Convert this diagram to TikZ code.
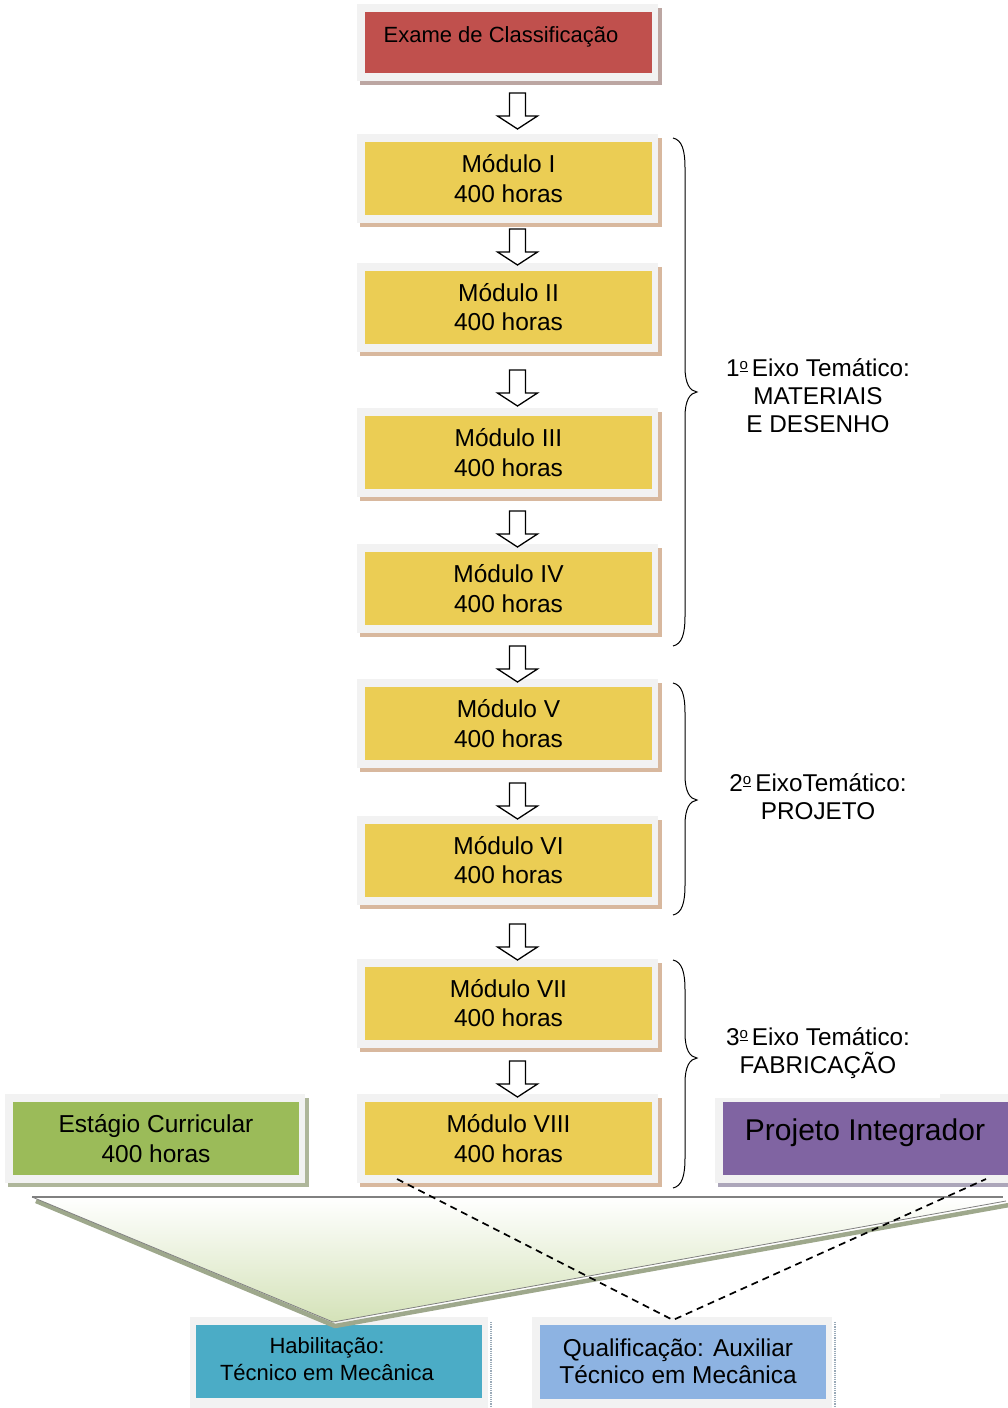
\documentclass[tikz,border=0pt]{standalone}
\usepackage{fontspec}
\setmainfont{Liberation Sans}
\definecolor{framegray}{HTML}{F2F2F2}
\definecolor{exred}{HTML}{C0504D}
\definecolor{modyellow}{HTML}{EBCD54}
\definecolor{estgreen}{HTML}{9BBB59}
\definecolor{pipurple}{HTML}{8064A2}
\definecolor{habteal}{HTML}{4BACC6}
\definecolor{qualblue}{HTML}{8DB3E2}
\definecolor{trigreen}{HTML}{D4E2B8}
\definecolor{shmod}{HTML}{D8B89E}
\definecolor{shred}{HTML}{BCA6A2}
\definecolor{shgreen}{HTML}{AEB69A}
\definecolor{shpurple}{HTML}{ACA6BA}
\definecolor{shtri}{HTML}{9EA88C}
\definecolor{shblue}{HTML}{9AAAB8}
\newcommand\cbox[8]{%
  \fill[#7] ({#2-#4/2-5},{#3-#5/2-4}) rectangle ({#2+#4/2+10},{#3+#5/2+12});
  \fill[framegray] ({#2-#4/2-8},{#3-#5/2-8}) rectangle ({#2+#4/2+6},{#3+#5/2+8});
  \node[inbox, fill=#6, minimum width=#4pt, minimum height=#5pt] (#1) at (#2,#3) {#8};}
\newcommand\rbrc[3]{%
  \draw[bracestyle] (673,#1) .. controls (682,#1+2) and (685,#1+12) .. (685,#1+30)
    -- (685,#2-25) .. controls (685,#2-8) and (690,#2-1) .. (697,#2)
    .. controls (690,#2+1) and (685,#2+8) .. (685,#2+25)
    -- (685,#3-30) .. controls (685,#3-12) and (682,#3-2) .. (673,#3);}
\newcommand\ordo{\raisebox{7pt}{\fontsize{15}{15}\selectfont\underline{o}}}
\begin{document}
\begin{tikzpicture}[x=1pt,y=-1pt,
  inbox/.style={inner sep=0pt, draw=none, align=center, font=\fontsize{24.5}{29.5}\selectfont},
  lbl/.style={inner sep=0pt, align=center},
  bracestyle/.style={line width=1pt, black},
  blockarrow/.style={draw=black, line width=1.3pt, fill=white, line join=miter},
  dashcon/.style={dash pattern=on 7pt off 5pt, line width=1.7pt}]
\useasboundingbox (0,0) rectangle (1008,1408);
\clip (0,0) rectangle (1008,1408);

% top box
\cbox{exame}{508.5}{42.5}{287}{61}{exred}{shred}{}
\node[lbl, anchor=base, font=\fontsize{22}{26}\selectfont] (examet) at (501,42) {Exame de Classificação};

% modules
\cbox{m1}{508.5}{178.5}{287}{73}{modyellow}{shmod}{Módulo I\\400 horas}
\cbox{m2}{508.5}{307}{287}{73}{modyellow}{shmod}{Módulo II\\400 horas}
\cbox{m3}{508.5}{452.5}{287}{73}{modyellow}{shmod}{Módulo III\\400 horas}
\cbox{m4}{508.5}{588.5}{287}{73}{modyellow}{shmod}{Módulo IV\\400 horas}
\cbox{m5}{508.5}{723.5}{287}{73}{modyellow}{shmod}{Módulo V\\400 horas}
\cbox{m6}{508.5}{860}{287}{73}{modyellow}{shmod}{Módulo VI\\400 horas}
\cbox{m7}{508.5}{1003}{287}{73}{modyellow}{shmod}{Módulo VII\\400 horas}
\cbox{m8}{508.5}{1138.5}{287}{73}{modyellow}{shmod}{Módulo VIII\\400 horas}

% block arrows
\foreach \t in {93,229,370,511,646,783,924,1061} {
  \draw[blockarrow] (509.5,\t) -- (525.5,\t) -- (525.5,\t+23) -- (537.5,\t+23)
    -- (517.5,\t+36) -- (497.5,\t+23) -- (509.5,\t+23) -- cycle;
}

% braces and labels
\rbrc{138}{392}{646}
\rbrc{683}{800}{915}
\rbrc{960}{1058}{1188}
\node[lbl, font=\fontsize{24.3}{28}\selectfont] (eixo1) at (818,396) {1\ordo\,Eixo Temático:\\MATERIAIS\\E DESENHO};
\node[lbl, font=\fontsize{24.3}{28}\selectfont] (eixo2) at (818,797) {2\ordo\,EixoTemático:\\PROJETO};
\node[lbl, font=\fontsize{24.3}{28}\selectfont] (eixo3) at (818,1053) {3\ordo\,Eixo Temático:\\FABRICAÇÃO};

% Estagio
\cbox{estagio}{156}{1138.5}{286}{73}{estgreen}{shgreen}{Estágio Curricular\\400 horas}

% Projeto Integrador
\fill[shpurple] (718,1179) rectangle (1015,1187);
\fill[framegray] (715,1098) rectangle (1015,1183);
\fill[framegray] (940,1094) rectangle (1015,1100);
\node[inbox, fill=pipurple, minimum width=292pt, minimum height=73pt] (proj) at (869,1138.5) {};
\node[lbl, anchor=base, font=\fontsize{30}{34}\selectfont] (projt) at (865,1140) {Projeto Integrador};

% bottom boxes
\fill[framegray] (190,1317) rectangle (488,1412);
\draw[shblue, densely dotted, line width=1.2pt] (491,1322) -- (491,1408);
\node[inbox, fill=habteal, minimum width=286pt, minimum height=73pt] (hab) at (339,1361.5) {};
\node[lbl, font=\fontsize{22}{27.5}\selectfont] (habt) at (327,1359) {Habilitação:\\Técnico em Mecânica};

\fill[framegray] (532,1317) rectangle (832,1412);
\draw[shblue, densely dotted, line width=1.2pt] (835,1322) -- (835,1408);
\node[inbox, fill=qualblue, minimum width=286pt, minimum height=74pt] (qual) at (683,1362) {};
\node[lbl, font=\fontsize{24.4}{27.5}\selectfont] (qualt) at (678,1361.5) {Qualificação: Auxiliar\\Técnico em Mecânica};

% funnel triangle
\coordinate (tl) at (32,1197);
\coordinate (tr) at (1003,1197);
\coordinate (tr2) at (1006,1201);
\coordinate (tb) at (333,1322);
\draw[shtri, line width=4.5pt, line join=round] (36,1201) -- (335,1326) -- (1009,1205);
\shade[top color=white, bottom color=trigreen] (tl) -- (tr) -- (tr2) -- (tb) -- cycle;
\draw[gray, line width=1.3pt] (tl) -- (tr);
\draw[gray, line width=0.8pt, line join=round] (tl) -- (tb) -- (tr2);

% dashed connectors
\coordinate (m8s) at (397,1179);
\coordinate (pis) at (986,1179);
\coordinate (qtop) at (673,1320);
\draw[dashcon] (m8s) -- (qtop) -- (pis);
\end{tikzpicture}
\end{document}
